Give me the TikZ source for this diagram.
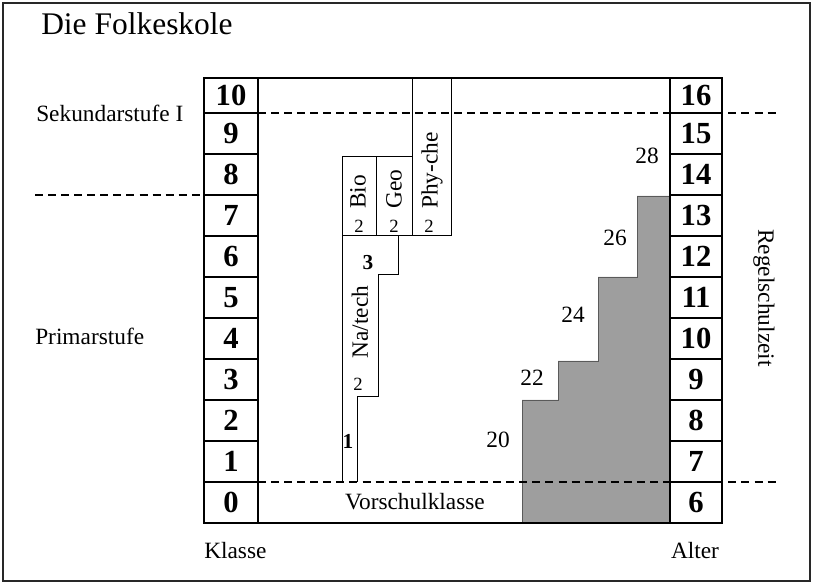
\documentclass[tikz,border=0pt]{standalone}
\usepackage{fontspec}
\setmainfont{Liberation Serif}
\usepackage{tikz}

\tikzset{
  lbl/.style={inner sep=0pt, font=\fontsize{17.5}{20}\selectfont},
  ttl/.style={inner sep=0pt, font=\fontsize{23.6}{28}\selectfont},
  num/.style={inner sep=0pt, font=\fontsize{23}{26}\selectfont\bfseries},
  sml/.style={inner sep=0pt, font=\fontsize{14}{16}\selectfont},
  smlb/.style={inner sep=0pt, font=\fontsize{16}{18}\selectfont\bfseries},
  stage/.style={line width=1.1pt, dash pattern=on 6pt off 3.8pt},
}

\begin{document}
\begin{tikzpicture}[x=0.75pt,y=0.75pt,yscale=-1]
\useasboundingbox (0,0) rectangle (815,584);

%Frame
\draw [line width=1.4pt, color={rgb, 255:red, 40; green, 40; blue, 40 }] (3,3) rectangle (810,581);

%Shape: Regelschulzeit steps
\fill [color={rgb, 255:red, 158; green, 158; blue, 158 }] (522,523) -- (522,400) -- (558,400) -- (558,361) -- (598,361) -- (598,277) -- (637,277) -- (637,196) -- (670,196) -- (670,523) -- cycle ;
\draw [line width=0.5pt, color={rgb, 255:red, 90; green, 90; blue, 90 }] (522,523) -- (522,400) -- (558,400) -- (558,361) -- (598,361) -- (598,277) -- (637,277) -- (637,196) -- (670,196) ;

%Dashed Lines
\draw [stage] (258,113) -- (780,113) ;
\draw [stage] (35,195) -- (204,195) ;
\draw [stage] (258,482) -- (780,482) ;

%Straight Lines: subjects
\draw [line width=0.75pt] (342,482) -- (342,157) -- (412,157) ;
\draw [line width=0.75pt] (376,157) -- (376,236) ;
\draw [line width=0.75pt] (412,78) -- (412,236) ;
\draw [line width=0.75pt] (451,78) -- (451,236) -- (342,236) ;
\draw [line width=0.75pt] (357,482) -- (357,397) -- (378,397) -- (378,275) -- (398,275) -- (398,236) ;

%Columns
\draw [line width=1.6pt] (258,78) -- (258,523) ;
\draw [line width=1.6pt] (670,78) -- (670,523) ;
\foreach \j in {0,...,9}{
  \draw [line width=1.4pt] (204,113+41*\j) -- (258,113+41*\j) ;
  \draw [line width=1.4pt] (670,113+41*\j) -- (722,113+41*\j) ;
}
\draw [line width=2.2pt] (204,78) rectangle (722,523) ;

% Text Node
\node [num] (k10) at (231,95.5) {10};
\node [num] (a16) at (696,95.5) {16};
\foreach \k [evaluate=\k as \a using int(\k+6)] in {0,...,9}{
  \node [num] (k\k) at (231,502.5-41*\k) {\k};
  \node [num] (a\a) at (696,502.5-41*\k) {\a};
}

% Text Node
\node [ttl, anchor=base west] (title) at (41,35) {Die Folkeskole};
\node [lbl, anchor=base west] (sek) at (36,122) {Sekundarstufe I};
\node [lbl, anchor=base west] (prim) at (35,345) {Primarstufe};
\node [lbl, anchor=base west] (klasse) at (204,559) {Klasse};
\node [lbl, anchor=base] (alter) at (695,559) {Alter};
\node [lbl, anchor=base] (vorsch) at (415,510) {Vorschulklasse};
\node [lbl, rotate=-90] (regel) at (764,298) {Regelschulzeit};

% Text Node: subjects
\node [lbl, rotate=90, anchor=west] (bio) at (358,209) {Bio};
\node [lbl, rotate=90, anchor=west] (geo) at (394,209) {Geo};
\node [lbl, rotate=90, anchor=west] (phy) at (432,209) {Phy-che};
\node [sml] (bio2) at (359,226) {2};
\node [sml] (geo2) at (394,226) {2};
\node [sml] (phy2) at (429,226) {2};
\node [lbl, rotate=90] (natech) at (360,322) {Na/tech};
\node [smlb] (nt3) at (368,263) {3};
\node [sml] (nt2) at (358,384) {2};
\node [smlb] (nt1) at (348,441) {1};

% Text Node: ages
\node [lbl] (h20) at (498,440) {20};
\node [lbl] (h22) at (532,378) {22};
\node [lbl] (h24) at (573,315) {24};
\node [lbl] (h26) at (615,238) {26};
\node [lbl] (h28) at (647,156) {28};

\end{tikzpicture}
\end{document}
